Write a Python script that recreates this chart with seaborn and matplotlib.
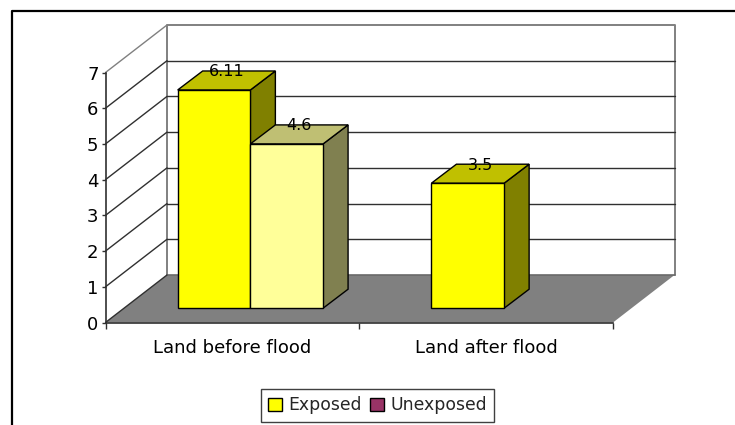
import matplotlib
matplotlib.use("Agg")
import matplotlib.pyplot as plt
from matplotlib.lines import Line2D
from matplotlib.transforms import IdentityTransform, ScaledTranslation
import pandas as pd
import seaborn as sns

categories = ["Land before flood", "Land before flood", "Land after flood", "Land after flood"]
series = ["Exposed", "Unexposed", "Exposed", "Unexposed"]
values = [6.11, 4.6, 3.5, float("nan")]
value_labels = ["6.11", "4.6", "3.5"]
series_colors = {"Exposed": "#FFFF00", "Unexposed": "#993366"}
y_ticks = list(range(8))

W, H = 735, 425
DPI = 100
TEXT = "DejaVu Sans"

sns.set_theme(style="white")
plt.rcParams["font.family"] = [TEXT]

fig = plt.figure(figsize=(W / DPI, H / DPI), dpi=DPI, facecolor="white")
left, right, bottom, top = 105.5, 613.0, 322.5, 72.5
ax = fig.add_axes([left / W, 1 - bottom / H, (right - left) / W, (bottom - top) / H])
ax.patch.set_alpha(0)

data = pd.DataFrame({"Land": categories, "Group": series, "Value": values})
sns.barplot(data=data, x="Land", y="Value", hue="Group", hue_order=list(series_colors),
            palette=series_colors, saturation=1, width=0.573, gap=0, edgecolor="black",
            linewidth=1.0, ax=ax, zorder=5)
ax.set_xlim(-0.5, 1.5)
ax.set_ylim(0, 7)
ax.set_xlabel("")
ax.set_ylabel("")

PIXELS = IdentityTransform()


def shifted(dx_px, dy_px):
    """Data transform displaced by an oblique depth offset given in pixels."""
    return ax.transData + ScaledTranslation(dx_px / DPI, dy_px / DPI, fig.dpi_scale_trans)


# Oblique depth of the chart box and of the bars, in pixels.
BOX_DX, BOX_DY = 61.5, 47.5
BAR_FRONT = (18.0, 14.3)
BAR_BACK = (43.0, 33.3)

box_far = shifted(BOX_DX, BOX_DY)
xmin, xmax = ax.get_xlim()
WALL_GREY = "#808080"
GRID = "#303030"

# Floor of the chart box.
(fx0, fy0), (fx1, _) = ax.transData.transform([(xmin, 0), (xmax, 0)])
ax.fill([fx0, fx1, fx1 + BOX_DX, fx0 + BOX_DX], [fy0, fy0, fy0 + BOX_DY, fy0 + BOX_DY],
        facecolor=WALL_GREY, edgecolor="none", transform=PIXELS, zorder=1, clip_on=False)

# Back wall outline and gridlines.
ax.plot([xmin, xmin, xmax, xmax], [0, 7, 7, 0], color=WALL_GREY, lw=1.4, transform=box_far,
        zorder=2, clip_on=False)
ax.plot([xmin, xmax], [0, 0], color="#6a6a6a", lw=1.2, transform=box_far, zorder=2, clip_on=False)
for tick in y_ticks[1:-1]:
    ax.plot([xmin, xmax], [tick, tick], color=GRID, lw=1.0, transform=box_far, zorder=2,
            clip_on=False)

# Side wall: each gridline continues obliquely to the value axis.
for tick in y_ticks:
    x0, y0 = ax.transData.transform((xmin, tick))
    ax.plot([x0, x0 + BOX_DX], [y0, y0 + BOX_DY], color=WALL_GREY if tick == 7 else GRID, lw=1.0,
            transform=PIXELS, zorder=3, clip_on=False)

# Front face of each bar, then its side and top faces from the same bar geometry.
bars = [p for group in ax.containers for p in group if p.get_height() > 0]
bars.sort(key=lambda p: p.get_x())
front = shifted(*BAR_FRONT)
top_colors = ["#C0C000", "#BFBF73", "#C0C000"]
side_colors = ["#808000", "#808050", "#808000"]
face_colors = ["#FFFF00", "#FFFF99", "#FFFF00"]
ddx, ddy = BAR_BACK[0] - BAR_FRONT[0], BAR_BACK[1] - BAR_FRONT[1]
for order, (bar, label) in enumerate(zip(bars, value_labels)):
    x0, x1 = bar.get_x(), bar.get_x() + bar.get_width()
    v = bar.get_height()
    z = 5 + order
    bar.set_facecolor(face_colors[order])
    bar.set_transform(front)
    bar.set_zorder(z + 0.2)
    bar.set_clip_on(False)
    (ax0, ay0), (ax1, ay1) = front.transform([(x0, 0), (x1, v)])
    ax.fill([ax1, ax1 + ddx, ax1 + ddx, ax1], [ay0, ay0 + ddy, ay1 + ddy, ay1],
            facecolor=side_colors[order], edgecolor="black", lw=1.0, transform=PIXELS, zorder=z,
            clip_on=False)
    ax.fill([ax0, ax1, ax1 + ddx, ax0 + ddx], [ay1, ay1, ay1 + ddy, ay1 + ddy],
            facecolor=top_colors[order], edgecolor="black", lw=1.0, transform=PIXELS, zorder=z,
            clip_on=False)
    ax.text((ax0 + ax1) / 2 + ddx / 2, ay1 + ddy - 1, label, transform=PIXELS, ha="center",
            va="center", fontsize=11.5, color="black", zorder=20)

# Axis lines and tick labels.
sns.despine(ax=ax, top=True, right=True)
for side in ("left", "bottom"):
    ax.spines[side].set_color(GRID)
    ax.spines[side].set_linewidth(1.2)
    ax.spines[side].set_zorder(4)
ax.set_yticks(y_ticks)
ax.tick_params(axis="y", length=3, width=1, color=GRID, left=True, labelsize=13, pad=2,
               labelcolor="black")
ax.set_xticks([-0.5, 0.5, 1.5], labels=["", "", ""])
ax.tick_params(axis="x", length=4, width=1, color=GRID, bottom=True)
for pos, name in enumerate(dict.fromkeys(categories)):
    ax.annotate(name, xy=(pos, 0), xycoords=("data", "axes fraction"), xytext=(0, -18.5),
                textcoords="offset points", ha="center", va="center", fontsize=13, color="black")

# Legend box beneath the plot.
sns.move_legend(ax, loc="center", bbox_to_anchor=(377.5 / W, 1 - 405.5 / H),
                bbox_transform=fig.transFigure, ncol=2, title=None, frameon=True, fancybox=False,
                edgecolor="#404040", framealpha=1, fontsize=12.4, handlelength=0.8,
                handleheight=0.8, handletextpad=0.4, columnspacing=0.45, borderpad=0.42,
                borderaxespad=0)
for handle in ax.get_legend().get_patches():
    handle.set_edgecolor("black")
    handle.set_linewidth(1)
ax.get_legend().set_zorder(30)

# Partial outer frame along the top and left.
fig.add_artist(Line2D([12 / W, 12 / W, 1], [0, 1 - 10.5 / H, 1 - 10.5 / H], color="black", lw=1.6))

fig.savefig("out.png", dpi=DPI)
